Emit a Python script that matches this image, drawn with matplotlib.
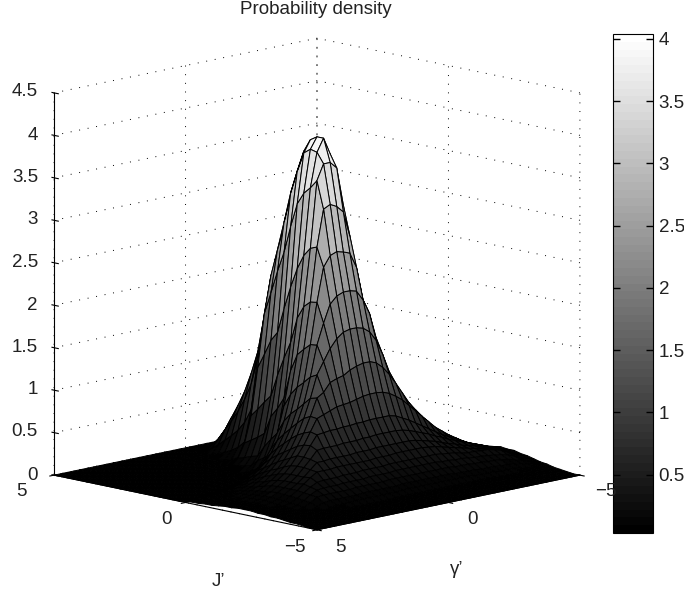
import numpy as np
import matplotlib
matplotlib.use("Agg")
import matplotlib.pyplot as plt

plt.rcParams['font.family'] = ['Liberation Sans', 'DejaVu Sans']
plt.rcParams['grid.linestyle'] = (0, (1, 7.9))
plt.rcParams['grid.color'] = 'k'
plt.rcParams['grid.linewidth'] = 0.7
plt.rcParams['axes.unicode_minus'] = True

# grid of the surface
j_vals = np.linspace(5, -5, 41)
gamma_vals = np.linspace(-5, 5, 41)

# density, in hundredths: one row per J', one column per gamma
density = [
    [0] * 41,
    [0] * 41,
    [0] * 19 + [1] + [0] * 21,
    [0] * 17 + [2, 3, 3, 2] + [0] * 20,
    [0] * 11 + [1, 1, 2, 3, 4, 5, 7, 8, 8, 7, 5, 3, 1, 1] + [0] * 16,
    [0, 0, 0, 0, 0, 0, 1, 1, 1, 1, 2, 2, 3, 5, 7, 9, 13, 17, 19, 20, 18, 13, 7, 3, 1, 1] + [0] * 15,
    [0, 0, 0, 0, 1, 1, 1, 1, 2, 2, 3, 4, 6, 8, 11, 16, 21, 28, 33, 34, 31, 22, 12, 5, 2, 1, 1] + [0] * 14,
    [0, 0, 1, 1, 1, 1, 1, 2, 2, 3, 4, 6, 9, 12, 17, 24, 33, 43, 50, 52, 47, 34, 18, 8, 4, 2, 1, 1] + [0] * 13,
    [0, 0, 1, 1, 1, 1, 2, 2, 3, 4, 6, 8, 12, 17, 23, 32, 44, 58, 67, 70, 63, 46, 25, 11, 5, 2, 1, 1] + [0] * 13,
    [0, 1, 1, 1, 1, 2, 2, 3, 4, 5, 8, 11, 15, 22, 30, 41, 57, 75, 86, 90, 81, 59, 32, 14, 6, 3, 1, 1] + [0] * 13,
    [1, 1, 1, 1, 2, 2, 3, 4, 5, 7, 10, 14, 20, 28, 38, 53, 72, 95, 110, 115, 104, 75, 40, 18, 8, 3, 2, 1] + [0] * 13,
    [1, 1, 1, 2, 2, 3, 4, 5, 7, 9, 12, 18, 25, 35, 48, 67, 92, 121, 140, 150, 131, 95, 51, 23, 10, 4, 2, 1] + [0] * 13,
    [1, 1, 2, 2, 3, 4, 5, 7, 9, 12, 17, 23, 33, 47, 64, 90, 123, 162, 187, 197, 176, 127, 68, 31, 14, 6, 3, 2] + [0] * 13,
    [1, 2, 2, 3, 4, 5, 6, 8, 11, 14, 20, 29, 40, 57, 79, 109, 150, 198, 228, 240, 224, 181, 119, 64, 33, 17, 10, 5, 2, 2] + [0] * 11,
    [1, 2, 3, 3, 4, 5, 7, 10, 12, 16, 23, 33, 46, 65, 90, 125, 171, 226, 261, 280, 256, 207, 136, 73, 38, 19, 11, 5, 3, 3, 1] + [0] * 10,
    [2, 2, 3, 4, 5, 6, 8, 11, 14, 18, 26, 37, 52, 74, 102, 142, 194, 256, 296, 318, 290, 234, 154, 83, 43, 22, 12, 6, 3, 3, 1, 1] + [0] * 9,
    [2, 2, 3, 4, 5, 7, 9, 12, 16, 21, 29, 42, 59, 83, 115, 160, 219, 288, 333, 350, 326, 258, 165, 92, 49, 24, 14, 7, 3, 3, 2, 1, 1] + [0] * 8,
    [2, 3, 4, 4, 6, 7, 10, 13, 17, 22, 32, 45, 63, 89, 123, 171, 234, 309, 357, 375, 353, 290, 195, 118, 71, 37, 22, 11, 7, 4, 3, 2, 1, 1] + [0] * 7,
    [2, 3, 4, 5, 6, 8, 11, 14, 18, 24, 33, 47, 67, 94, 129, 180, 247, 325, 376, 390, 376, 318, 222, 140, 82, 47, 27, 16, 12, 8, 5, 3, 2, 1, 1] + [0] * 6,
    [2, 3, 4, 5, 6, 8, 11, 14, 18, 24, 34, 48, 68, 96, 131, 183, 251, 330, 382, 395, 382, 332, 245, 160, 96, 56, 32, 20, 12, 8, 5, 4, 3, 2, 1, 1, 1] + [0] * 4,
    [1, 2, 3, 4, 5, 7, 10, 14, 18, 25, 35, 50, 72, 100, 135, 185, 250, 320, 375, 395, 380, 340, 262, 190, 130, 90, 60, 42, 30, 22, 17, 13, 10, 8, 6, 5, 3, 3, 2, 1, 1],
    [2, 3, 4, 5, 7, 9, 11, 15, 20, 27, 38, 55, 78, 100, 130, 175, 240, 315, 360, 368, 368, 350, 272, 205, 150, 105, 75, 54, 40, 30, 23, 17, 13, 11, 9, 7, 5, 4, 3, 3, 2],
    [3, 4, 5, 6, 8, 11, 14, 19, 25, 32, 43, 57, 75, 95, 125, 170, 225, 280, 310, 318, 322, 318, 275, 212, 158, 115, 85, 63, 48, 37, 28, 22, 17, 13, 11, 9, 7, 5, 4, 3, 2],
    [4, 6, 8, 10, 12, 15, 19, 24, 30, 38, 48, 62, 80, 95, 120, 160, 205, 245, 263, 266, 268, 265, 253, 213, 165, 122, 92, 71, 55, 43, 33, 26, 20, 16, 13, 10, 8, 6, 5, 4, 3],
    [6, 8, 10, 13, 16, 20, 25, 30, 36, 45, 55, 69, 85, 105, 130, 160, 190, 208, 220, 222, 222, 219, 211, 190, 166, 130, 100, 79, 62, 48, 38, 30, 24, 19, 15, 12, 10, 8, 6, 4, 3],
    [7, 9, 12, 15, 19, 24, 29, 35, 42, 50, 60, 72, 86, 102, 120, 142, 160, 172, 178, 180, 180, 178, 172, 162, 148, 134, 108, 86, 68, 53, 42, 33, 27, 21, 17, 14, 11, 9, 7, 5, 4],
    [9, 11, 14, 18, 22, 27, 32, 38, 45, 53, 62, 72, 82, 95, 108, 120, 130, 137, 140, 140, 138, 135, 130, 128, 125, 115, 110, 90, 72, 58, 46, 37, 30, 24, 19, 15, 12, 10, 8, 6, 5],
    [11, 13, 16, 19, 23, 28, 33, 38, 44, 50, 58, 66, 74, 82, 90, 96, 101, 104, 105, 105, 104, 102, 100, 99, 98, 95, 92, 89, 75, 61, 50, 40, 32, 26, 21, 16, 13, 11, 9, 7, 5],
    [14, 16, 18, 21, 24, 27, 31, 35, 39, 43, 48, 53, 58, 63, 68, 72, 76, 78, 78, 78, 78, 77, 77, 76, 76, 75, 75, 74, 73, 62, 50, 41, 33, 27, 22, 17, 14, 11, 9, 7, 6],
    [13, 15, 18, 21, 24, 27, 30, 33, 36, 39, 43, 46, 50, 53, 56, 59, 61, 62, 62, 62, 62, 61, 61, 60, 60, 60, 59, 59, 59, 58, 49, 41, 33, 27, 22, 18, 14, 12, 10, 8, 6],
    [13, 15, 17, 20, 22, 25, 28, 30, 32, 35, 37, 40, 43, 45, 47, 49, 50, 50, 50, 50, 50, 50, 49, 49, 49, 48, 48, 48, 48, 47, 47, 40, 33, 27, 22, 17, 13, 11, 9, 7, 6],
    [11, 13, 16, 19, 21, 24, 26, 28, 30, 32, 34, 36, 38, 40, 41, 42, 42, 42, 42, 42, 41, 41, 41, 40, 40, 40, 40, 40, 40, 39, 39, 39, 34, 28, 22, 17, 13, 10, 8, 6, 5],
    [10, 12, 15, 19, 23, 25, 27, 27, 28, 28, 29, 31, 32, 33, 34, 34, 34, 34, 34, 34, 34, 34, 33, 33, 33, 33, 32, 32, 32, 31, 31, 31, 30, 26, 21, 16, 12, 10, 8, 6, 5],
    [8, 10, 12, 16, 19, 21, 22, 23, 24, 24, 25, 26, 26, 27, 27, 28, 28, 28, 28, 28, 28, 28, 27, 27, 27, 27, 26, 26, 26, 26, 25, 25, 25, 24, 20, 15, 11, 9, 7, 5, 4],
    [6, 8, 10, 13, 15, 17, 18, 19, 19, 20, 20, 21, 21, 21, 22, 22, 22, 22, 22, 22, 22, 22, 22, 22, 21, 21, 21, 21, 21, 20, 20, 20, 20, 20, 19, 14, 10, 8, 6, 5, 4],
    [5, 6, 8, 10, 12, 13, 14, 14, 15, 15, 15, 16, 16, 16, 16, 17, 17, 17, 17, 17, 17, 17, 17, 16, 16, 16, 16, 16, 16, 15, 15, 15, 15, 15, 14, 11, 8, 6, 5, 4, 3],
    [3, 4, 6, 7, 9, 10, 11, 11, 11, 12, 12, 12, 12, 13, 13, 13, 13, 13, 13, 13, 13, 13, 13, 13, 12, 12, 12, 12, 12, 12, 12, 11, 11, 11, 10, 8, 7, 5, 4, 3, 2],
    [2, 3, 4, 5, 6, 7, 8, 8, 8, 8, 9, 9, 9, 9, 9, 9, 9, 9, 9, 9, 9, 9, 9, 9, 9, 9, 8, 8, 8, 8, 8, 8, 8, 7, 7, 6, 5, 4, 3, 2, 2],
    [1, 2, 3, 3, 4, 4, 5, 5, 5, 5, 6, 6, 6, 6, 6, 6, 6, 6, 6, 6, 6, 6, 6, 6, 6, 6, 6, 5, 5, 5, 5, 5, 5, 4, 4, 4, 3, 3, 2, 2, 1],
    [0, 1, 1, 2, 2, 2, 2, 3, 3, 3, 3, 3, 3, 3, 3, 3, 3, 3, 3, 3, 3, 3, 3, 3, 3, 3, 3, 3, 3, 3, 3, 2, 2, 2, 2, 2, 2, 1, 1, 1, 0],
    [0] * 41,
]

j_ticks = [-5, 0, 5]
gamma_ticks = [-5, 0, 5]
z_ticks = [0, 0.5, 1, 1.5, 2, 2.5, 3, 3.5, 4, 4.5]
z_tick_labels = ['0', '0.5', '1', '1.5', '2', '2.5', '3', '3.5', '4', '4.5']
bar_ticks = [0.5, 1, 1.5, 2, 2.5, 3, 3.5, 4]
bar_tick_labels = ['0.5', '1', '1.5', '2', '2.5', '3', '3.5', '4']
color_min = 0.03
color_max = 4.04

W, H = 684, 597
FS = 13.5
TXT = '#222222'
fig = plt.figure(figsize=(W / 100, H / 100), dpi=100, facecolor='white')

# square 3d axes, box placed by hand in pixels
side = 636
left = -9.6
bottom = -13.6
ax = fig.add_axes([left / W, bottom / H, side / W, side / H], projection='3d')
ax.set_proj_type('ortho')
ax.view_init(elev=12, azim=135)
ax.set_box_aspect((372, 372, 391))

X, Y = np.meshgrid(j_vals, gamma_vals, indexing='ij')
Z = np.array(density) / 100.0
gray = plt.get_cmap('gray', 64)
surf = ax.plot_surface(X, Y, Z, rstride=1, cstride=1, cmap=gray, vmin=color_min, vmax=color_max,
                       edgecolor='k', linewidth=0.7, shade=False, antialiased=True)

ax.set_xlim(-5, 5)
ax.set_ylim(-5, 5)
ax.set_zlim(0, 4.5)
ax.set_xticks(j_ticks)
ax.set_yticks(gamma_ticks)
ax.set_zticks(z_ticks)
ax.set_xticklabels([])
ax.set_yticklabels([])
ax.set_zticklabels([])
for axis in (ax.xaxis, ax.yaxis, ax.zaxis):
    axis.set_pane_color((1, 1, 1, 0))
# z axis goes on the left corner
ax.zaxis._axinfo['juggled'] = (1, 2, 0)

# tick labels placed in pixels, 3d tick padding can't reach them
z_label_y = [475, 432, 390, 347, 305, 262, 220, 177, 135, 92]
for lab, y in zip(z_tick_labels, z_label_y):
    fig.text(38 / W, 1 - y / H, lab, ha='right', va='center', fontsize=FS, color=TXT)
for lab, px, py in zip(['5', '0', '\u22125'], [21, 167, 295], [492, 519, 548]):
    fig.text(px / W, 1 - py / H, lab, ha='center', va='center', fontsize=FS, color=TXT)
for lab, px, py in zip(['5', '0', '\u22125'], [340, 472, 606], [548, 519, 491]):
    fig.text(px / W, 1 - py / H, lab, ha='center', va='center', fontsize=FS, color=TXT)

# colour bar
cax = fig.add_axes([613 / W, 1 - 533 / H, 40 / W, 499 / H])
bar = fig.colorbar(surf, cax=cax)
bar.set_ticks(bar_ticks)
bar.set_ticklabels(bar_tick_labels)
cax.tick_params(direction='in', left=True, right=True, length=5, width=1, labelsize=FS,
                labelcolor=TXT, pad=4)

fig.text(316 / W, 1 - 9 / H, 'Probability density', ha='center', va='center', fontsize=FS, color=TXT)
fig.text(218 / W, 1 - 582 / H, 'J\u2019', ha='center', va='center', fontsize=FS, color=TXT)
fig.text(457 / W, 1 - 570 / H, '\u03b3\u2019', ha='center', va='center', fontsize=FS, color=TXT)

fig.savefig('out.png', dpi=100)
